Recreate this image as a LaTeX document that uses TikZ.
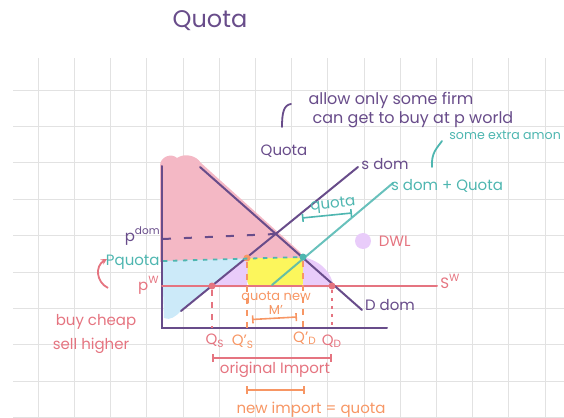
\documentclass[tikz,border=0pt]{standalone}
\usepackage{fontspec}
\setmainfont{Poppins}
\usepackage{tikz}
\usetikzlibrary{arrows.meta,positioning}
\definecolor{ink}{RGB}{104,76,138}
\definecolor{tealink}{RGB}{78,182,176}
\definecolor{pinkink}{RGB}{229,116,128}
\definecolor{orangeink}{RGB}{247,150,100}
\definecolor{shpink}{RGB}{244,184,197}
\definecolor{shblue}{RGB}{204,234,249}
\definecolor{shyellow}{RGB}{252,246,92}
\definecolor{shlav}{RGB}{233,204,250}
\definecolor{gridgray}{RGB}{226,226,226}

\begin{document}
\begin{tikzpicture}[x=0.5pt,y=-0.5pt,
    hand/.style={font=\fontsize{7.5}{8.5}\selectfont,inner sep=0pt},
    note/.style={font=\fontsize{8}{9}\selectfont,inner sep=0pt},
    small/.style={font=\fontsize{6.5}{6}\selectfont,inner sep=0pt,align=center},
    big/.style={font=\fontsize{12}{14}\selectfont,inner sep=0pt},
    curve/.style={line width=1pt,line cap=round},
    dot/.style={circle,inner sep=0pt,minimum size=3.5pt},
    dsh/.style={line width=0.9pt,dash pattern=on 3pt off 3pt},
    bracket/.style={line width=0.8pt,{Bar[width=4pt]}-{Bar[width=4pt]}},
    gridline/.style={draw=gridgray,line width=0.5pt}]
   \useasboundingbox (0,0) rectangle (564,418);
   % grid paper
   \foreach \i in {0,...,14} \draw[gridline] ({38.3+36.2*\i},58) -- ({38.3+36.2*\i},418);
   \foreach \j in {0,...,9} \draw[gridline] (13,{90+36.4*\j}) -- (564,{90+36.4*\j});
   % shaded areas
   \fill[shpink] (160,262) -- (160,166) .. controls (160,156) and (172,153) .. (177,158)
      .. controls (184,153) and (196,155) .. (201,163) -- (300,252)
      .. controls (304,256) and (300,260) .. (294,259) -- cycle;
   \fill[shblue] (162,261) -- (246,258.5) -- (180,312) .. controls (176,316) and (170,321) .. (164,318) -- cycle;
   \fill[shyellow,rounded corners=2.5pt] (247,258) rectangle (304,286);
   \fill[shlav] (211,287) -- (246,258) .. controls (248,268) .. (247,287) -- cycle;
   \fill[shlav] (303,257) .. controls (324,262) and (331,274) .. (334,287) -- (303,287) -- cycle;
   \node[circle,fill=shlav,minimum size=8pt,inner sep=0pt] (dwldot) at (363,241) {};
   % axes and curves
   \coordinate (ytop) at (162,166);
   \coordinate (O)    at (162,327.5);
   \coordinate (xend) at (387,327.5);
   \coordinate (dA)   at (200,167);
   \coordinate (dB)   at (362,310);
   \coordinate (sA)   at (181,311);
   \coordinate (sB)   at (358,167);
   \coordinate (tA)   at (272,285);
   \coordinate (tB)   at (393,183);
   \coordinate (pwA)  at (162,286);
   \coordinate (pwB)  at (437,286);
   \coordinate (eq)   at (275.5,234);
   \coordinate (pdomL) at (163,239);
   \coordinate (pqL)  at (163,261);
   \draw[ink,curve] (ytop) -- (O) -- (xend);
   \draw[pinkink,curve] (pwA) -- (pwB);
   \draw[ink,curve] (dA) -- (dB);
   \draw[ink,curve] (sA) -- (sB);
   \draw[tealink,curve,opacity=0.85] (tA) -- (tB);
   \node[dot,fill=pinkink]   (qs)  at (212,286) {};
   \node[dot,fill=pinkink]   (qd)  at (332,286) {};
   \node[dot,fill=orangeink] (qsn) at (247,258) {};
   \node[dot,fill=tealink]   (qdn) at (303,257) {};
   % price and quantity guides
   \draw[ink,line width=1pt,dash pattern=on 4pt off 6.5pt] (pdomL) -- (eq);
   \draw[tealink,line width=0.9pt,dash pattern=on 2.2pt off 2.8pt] (pqL) -- (qdn);
   \draw[pinkink,dsh] (qs) -- (qs |- O);
   \draw[orangeink,dsh] (qsn) -- (qsn |- O);
   \draw[orangeink,dsh] (qdn) -- (qdn |- O);
   \draw[pinkink,line width=0.9pt,dash pattern=on 1.5pt off 2.5pt] (qd) -- (qd |- O);
   % brackets
   \coordinate (qbL) at (302,218);   \coordinate (qbR) at (352,213);
   \coordinate (mbL) at (252,319.5); \coordinate (mbR) at (297,317);
   \coordinate (obL) at (212,358);   \coordinate (obR) at (332,358);
   \coordinate (nbL) at (246,390);   \coordinate (nbR) at (305,390);
   \draw[tealink,bracket] (qbL) -- (qbR);
   \draw[orangeink,bracket] (mbL) -- (mbR);
   \draw[pinkink,bracket] (obL) -- (obR);
   \draw[orangeink,bracket] (nbL) -- (nbR);
   % hooks
   \coordinate (hk1a) at (282,127); \coordinate (hk1b) at (291,104);
   \coordinate (hk2a) at (432,167); \coordinate (hk2b) at (442,141);
   \coordinate (arA) at (108,288);  \coordinate (arB) at (107,259);
   \draw[ink,line width=0.9pt,line cap=round] (hk1a) .. controls (282,112) and (284,105) .. (hk1b);
   \draw[tealink,line width=0.9pt,line cap=round] (hk2a) .. controls (431,153) and (437,148) .. (hk2b);
   \draw[pinkink,line width=0.9pt,-{Stealth[length=3pt,width=3pt]}] (arA) .. controls (96,282) and (95,266) .. (arB);
   % labels
   \node[big,text=ink] (title) at (210,21) {Quota};
   \node[note,text=ink] (note1) at (391,100) {allow only some firm};
   \node[note,text=ink] (note2) at (413,120) {can get to buy at p world};
   \node[font=\fontsize{6.3}{7}\selectfont,inner sep=0pt,text=tealink,anchor=base west] (extra) at (449,139) {some extra amon};
   \node[hand,text=ink] (qlab) at (284,151) {Quota};
   \node[hand,text=ink] (sdom) at (385,164) {s dom};
   \node[hand,text=tealink] (sqlab) at (447,186) {s dom + Quota};
   \node[hand,text=tealink,rotate=6] (qtlab) at (333,205) {quota};
   \node[hand,text=pinkink,right=3.5pt of dwldot] (dwl) {DWL};
   \node[hand,text=ink,anchor=base east] (pdom) at (161,241) {p\textsuperscript{dom}};
   \node[hand,text=tealink,anchor=base east] (pq) at (160,265) {Pquota};
   \node[hand,text=pinkink,anchor=base east] (pw) at (160,290) {p\textsuperscript{W}};
   \node[hand,text=pinkink,anchor=base west] (sw) at (440,288) {S\textsuperscript{W}};
   \node[hand,text=ink] (ddom) at (390,305) {D dom};
   \node[small,text=orangeink] (qnew) at (276,303) {quota new\\M'};
   \node[hand,text=pinkink] (qslab) at (215,341) {Q\textsubscript{S}};
   \node[hand,text=orangeink] (qsnlab) at (243,342) {Q'\textsubscript{S}};
   \node[hand,text=orangeink] (qdnlab) at (305,338) {Q'\textsubscript{D}};
   \node[hand,text=pinkink] (qdlab) at (332,341) {Q\textsubscript{D}};
   \node[hand,text=pinkink] (orig) at (275,370) {original Import};
   \node[hand,text=orangeink] (newimp) at (311,410) {new import = quota};
   \node[hand,text=pinkink] (buy) at (96,322) {buy cheap};
   \node[hand,text=pinkink] (sell) at (91,346) {sell higher};
\end{tikzpicture}
\end{document}
